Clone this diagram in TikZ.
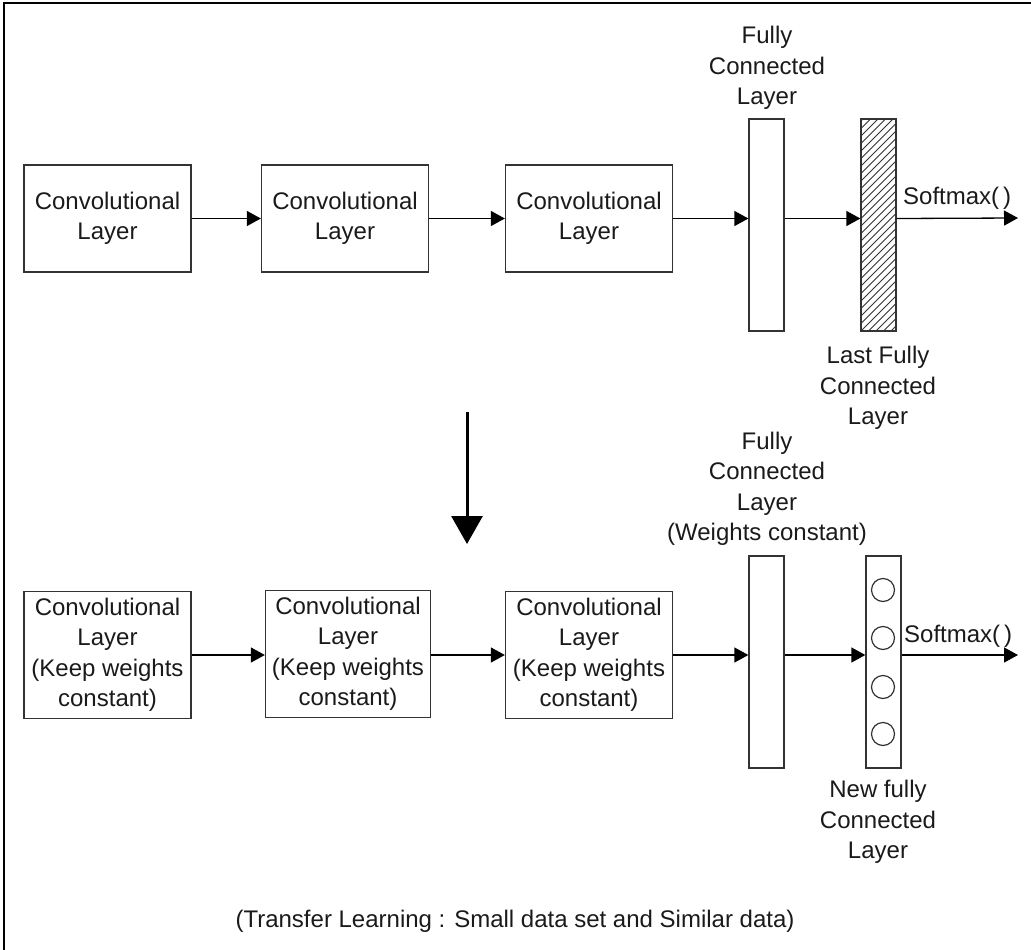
\documentclass[tikz,border=0pt]{standalone}
\usepackage{fontspec}
\setmainfont{Liberation Sans}
\usetikzlibrary{arrows.meta}
\definecolor{boxline}{HTML}{333333}
\definecolor{txt}{HTML}{1A1A1A}
\begin{document}
\begin{tikzpicture}[x=1pt,y=-1pt,
  every node/.style={font=\fontsize{24}{30.5}\selectfont, text=txt},
  convbox/.style={draw=boxline, line width=1.3pt, minimum width=167pt, inner sep=0pt, align=center},
  fcbox/.style={draw=boxline, line width=1.3pt, minimum width=35pt, minimum height=212pt, inner sep=0pt},
  lbl/.style={align=center, inner sep=0pt},
  neuron/.style={circle, draw=boxline, line width=1.2pt, minimum size=23pt, inner sep=0pt},
  arr/.style={line width=1.3pt, -{Triangle[length=14pt,width=15pt]}},
  bigarr/.style={line width=3pt, -{Triangle[length=28pt,width=31pt]}}
]
\useasboundingbox (0,0) rectangle (1031,950);
% frame (only left and top edges visible)
\coordinate (fbl) at (4,960);
\coordinate (ftl) at (4,3);
\coordinate (ftr) at (1040,3);
\draw[line width=2.5pt] (fbl) -- (ftl) -- (ftr);

% ---------- top row ----------
\node[convbox, minimum height=107pt] (t1) at (107.5,218.5) {Convolutional\\Layer};
\node[convbox, minimum height=107pt] (t2) at (345,218.5) {Convolutional\\Layer};
\node[convbox, minimum height=107pt] (t3) at (589,218.5) {Convolutional\\Layer};
\node[fcbox] (fc1) at (766.5,225) {};
\node[fcbox] (hatch) at (878.5,225) {};
\begin{scope}
  \clip (hatch.south west) rectangle (hatch.north east);
  \foreach \k in {0,7.5,...,285} {
    \draw[line width=0.9pt, boxline] (hatch.south west) ++(\k-240,0) -- ++(260,-260);
  }
\end{scope}
\draw[boxline, line width=1.3pt] (hatch.south west) rectangle (hatch.north east);
\coordinate (tend) at (1018,218);

\draw[arr] (t1.east) -- (t2.west);
\draw[arr] (t2.east) -- (t3.west);
\draw[arr] (t3.east) -- (t3.east -| fc1.west);
\draw[arr] (fc1.east |- t3.east) -- (hatch.west |- t3.east);
\draw[arr] (hatch.east |- t3.east) -- (tend);

\node[lbl] (fc1lbl) at (767,68) {Fully\\Connected\\Layer};
\node[lbl, anchor=west] (smax1) at (903,198) {Softmax(\,)};
\node[lbl] (lastlbl) at (878,388) {Last Fully\\Connected\\Layer};

% ---------- big arrow ----------
\coordinate (bigA) at (467,412);
\coordinate (bigB) at (467,544);
\draw[bigarr] (bigA) -- (bigB);

% ---------- bottom row ----------
\node[convbox, minimum height=127pt] (b1) at (107.5,655) {Convolutional\\Layer\\(Keep weights\\constant)};
\node[convbox, minimum height=127pt, minimum width=165pt] (b2) at (348,654) {Convolutional\\Layer\\(Keep weights\\constant)};
\node[convbox, minimum height=127pt] (b3) at (589,655) {Convolutional\\Layer\\(Keep weights\\constant)};
\node[fcbox] (fc2) at (766.5,662) {};
\node[fcbox] (newfc) at (883.5,662) {};
\node[neuron] (n1) at (883,590) {};
\node[neuron] (n2) at (883,638) {};
\node[neuron] (n3) at (883,687) {};
\node[neuron] (n4) at (883,734) {};
\coordinate (bend) at (1018,655);

\draw[arr] (b1.east) -- (b2.west |- b1.east);
\draw[arr] (b2.east |- b3.east) -- (b3.west);
\draw[arr] (b3.east) -- (b3.east -| fc2.west);
\draw[arr] (fc2.east |- b3.east) -- (newfc.west |- b3.east);
\draw[arr] (newfc.east |- b3.east) -- (bend);

\node[lbl] (fc2lbl) at (767,489) {Fully\\Connected\\Layer\\(Weights constant)};
\node[lbl, anchor=west] (smax2) at (904,636) {Softmax(\,)};
\node[lbl] (newlbl) at (878,822) {New fully\\Connected\\Layer};

% ---------- caption ----------
\node[lbl] (cap) at (515,921) {(Transfer Learning : Small data set and Similar data)};
\end{tikzpicture}
\end{document}
